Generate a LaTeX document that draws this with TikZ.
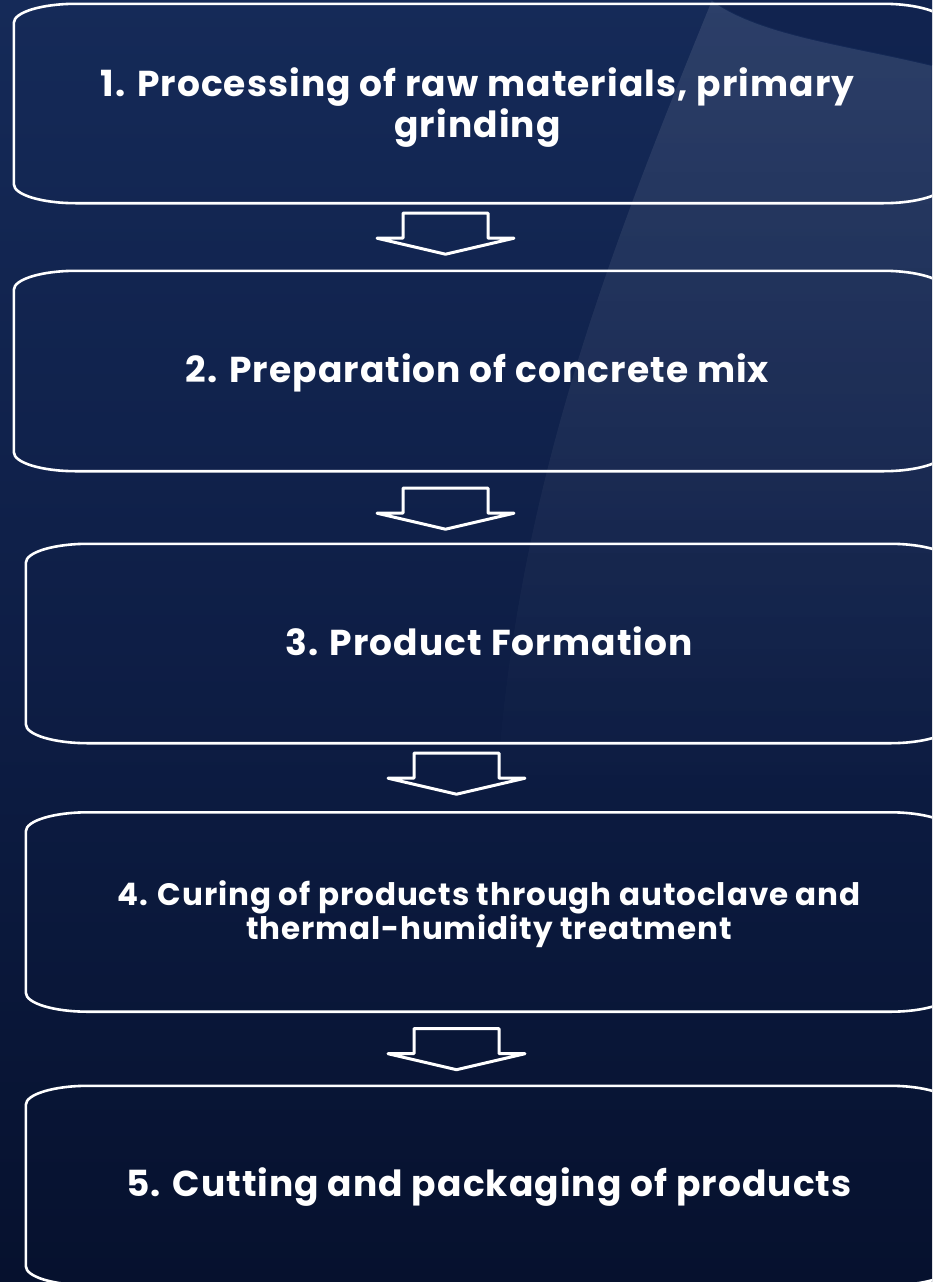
\documentclass[tikz,border=0pt]{standalone}
\usepackage{fontspec}
\setmainfont{Poppins}
\usetikzlibrary{calc,fadings}
\definecolor{bgtop}{RGB}{21,42,88}
\definecolor{bgmid}{RGB}{14,30,70}
\definecolor{bgbot}{RGB}{6,17,46}
\definecolor{bgdark}{RGB}{14,30,72}
\tikzset{
  stepbox/.style={draw=none, inner sep=0pt, minimum height=199pt},
  steptext/.style={inner sep=0pt, text=white, align=center,
    font=\bfseries\fontsize{36}{41}\selectfont\addfontfeature{LetterSpace=3}},
  smalltext/.style={steptext, font=\bfseries\fontsize{31}{34}\selectfont\addfontfeature{LetterSpace=3}},
  boxline/.style={draw=white, line width=2.6pt},
  blockarr/.style={draw=white, line width=3pt, line join=round}
}
\newcommand{\rx}{62}
\newcommand{\ry}{19}
\newcommand{\kk}{0.448}
\begin{document}
\begin{tikzpicture}[x=1pt,y=-1pt]
\useasboundingbox (0,0) rectangle (932,1282);
\clip (0,0) rectangle (932,1282);
% background
\shade[top color=bgtop, bottom color=bgbot, middle color=bgmid] (0,0) rectangle (932,1282);
\fill[white, opacity=0.10, path fading=south] (712,0) .. controls (610,250) and (510,500) .. (495,820)
  -- (932,820) -- (932,65)
  .. controls (850,45) and (760,35) .. (712,0) -- cycle;
\fill[bgdark, opacity=0.5] (712,0) .. controls (760,35) and (850,45) .. (932,65) -- (932,0) -- cycle;

% boxes
\node[stepbox, minimum width=931pt] (b1) at (479.5,103.5) {};
\node[stepbox, minimum width=931pt, minimum height=200pt] (b2) at (479.5,371) {};
\node[stepbox, minimum width=926pt] (b3) at (489,643.5) {};
\node[stepbox, minimum width=926pt] (b4) at (489,912) {};
\node[stepbox, minimum width=926pt] (b5) at (489,1185.5) {};

% texts
\node[steptext] (t1) at ($(b1.center)+(-2,4)$) {1. Processing of raw materials, primary\\grinding};
\node[steptext] (t2) at ($(b2.center)+(-2,2)$) {2. Preparation of concrete mix};
\node[steptext] (t3) at ($(b3.center)+(0,-2)$) {3. Product Formation};
\node[smalltext] (t4) at ($(b4.center)+(0,2)$) {4. Curing of products through autoclave and\\thermal-humidity treatment};
\node[steptext] (t5) at ($(b5.center)+(0,2)$) {5. Cutting and packaging of products};

\foreach \n in {b1,b2,b3,b4,b5}{
  \draw[boxline]
    ($(\n.north west)+(0,\ry)$)
    .. controls ($(\n.north west)+(0,\kk*\ry)$) and ($(\n.north west)+(\kk*\rx,0)$) .. ($(\n.north west)+(\rx,0)$)
    -- ($(\n.north east)+(-\rx,0)$)
    .. controls ($(\n.north east)+(-\kk*\rx,0)$) and ($(\n.north east)+(0,\kk*\ry)$) .. ($(\n.north east)+(0,\ry)$)
    -- ($(\n.south east)+(0,-\ry)$)
    .. controls ($(\n.south east)+(0,-\kk*\ry)$) and ($(\n.south east)+(-\kk*\rx,0)$) .. ($(\n.south east)+(-\rx,0)$)
    -- ($(\n.south west)+(\rx,0)$)
    .. controls ($(\n.south west)+(\kk*\rx,0)$) and ($(\n.south west)+(0,-\kk*\ry)$) .. ($(\n.south west)+(0,-\ry)$)
    -- cycle;
}

% block arrows between boxes
\coordinate (a1) at ($(b1.south)+(-34,10)$);
\coordinate (a2) at ($(b2.south)+(-34,17)$);
\coordinate (a3) at ($(b3.south)+(-32.5,10)$);
\coordinate (a4) at ($(b4.south)+(-32.5,17)$);
\foreach \a in {a1,a2,a3,a4}{
  \draw[blockarr] (\a) +(-42.5,0) -- +(42.5,0) -- +(42.5,25) -- +(68.5,25)
    -- +(0,41) -- +(-68.5,25) -- +(-42.5,25) -- cycle;
}
\end{tikzpicture}
\end{document}
